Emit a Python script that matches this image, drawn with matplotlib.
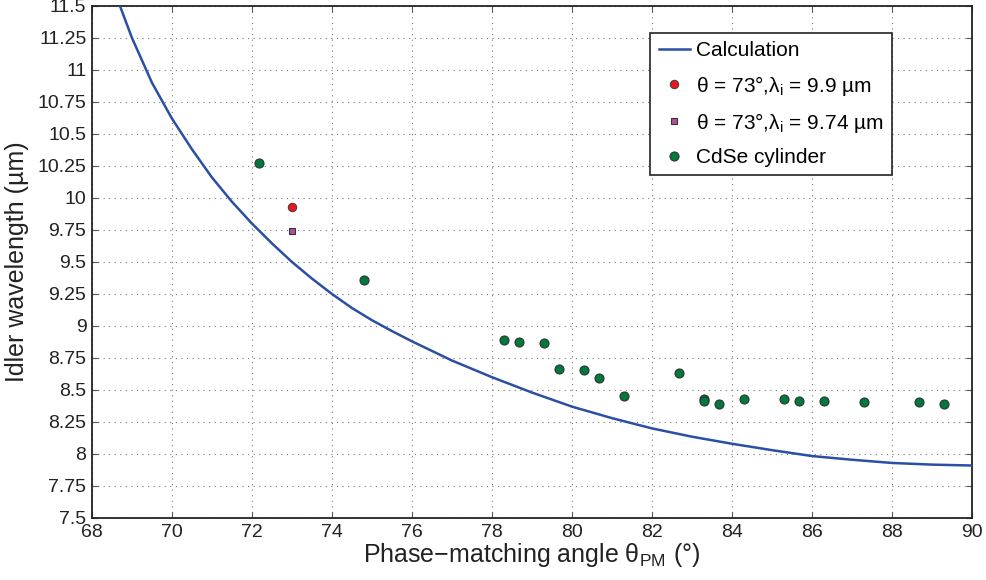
import numpy as np
import matplotlib
matplotlib.use('Agg')
from matplotlib import pyplot as plt
from matplotlib.ticker import FormatStrFormatter

plt.rcParams['font.family'] = ['Liberation Sans', 'DejaVu Sans']
plt.rcParams['mathtext.fontset'] = 'custom'
plt.rcParams['mathtext.rm'] = 'Liberation Sans'
plt.rcParams['mathtext.it'] = 'Liberation Sans:italic'

# calculated phase-matching curve
calc_angle = [68.7, 69.0, 69.5, 70.0, 70.5, 71.0, 71.5, 72.0, 72.5, 73.0,
              73.5, 74.0, 74.5, 75.0, 75.5, 76.0, 77.0, 78.0, 79.0, 80.0,
              81.0, 82.0, 83.0, 84.0, 85.0, 86.0, 87.0, 88.0, 89.0, 90.0]
calc_idler = [11.5, 11.25, 10.9, 10.62, 10.38, 10.16, 9.97, 9.8, 9.645, 9.5,
              9.37, 9.25, 9.14, 9.045, 8.96, 8.88, 8.73, 8.6, 8.48, 8.37,
              8.28, 8.2, 8.135, 8.08, 8.03, 7.984, 7.955, 7.93, 7.917, 7.91]

# single measurements at 73 deg
red_angle = [73.0]
red_idler = [9.93]
sq_angle = [73.0]
sq_idler = [9.74]

# CdSe cylinder measurements
cyl_angle = [72.18, 74.8, 78.31, 78.68, 79.31, 79.67, 80.3, 80.67, 81.3, 82.67,
             83.31, 83.31, 83.68, 84.3, 85.3, 85.67, 86.3, 87.3, 88.67, 89.3]
cyl_idler = [10.27, 9.36, 8.89, 8.875, 8.867, 8.664, 8.66, 8.59, 8.45, 8.633,
             8.432, 8.417, 8.39, 8.43, 8.43, 8.414, 8.417, 8.404, 8.404, 8.39]

fig = plt.figure(figsize=(9.86, 5.8), dpi=100)
ax = fig.add_axes([0.0933, 0.1069, 0.8925, 0.8828])

ax.plot(calc_angle, calc_idler, color='#2b4fa3', lw=1.8, label='Calculation', zorder=3)
ax.plot(red_angle, red_idler, 'o', ms=6, mfc='#f0141e', mec='#444444', mew=0.8,
        label='θ = 73°,λ$_\\mathregular{i}$ = 9.9 µm', zorder=4)
ax.plot(sq_angle, sq_idler, 's', ms=5, mfc='#b0509c', mec='#333333', mew=0.8,
        label='θ = 73°,λ$_\\mathregular{i}$ = 9.74 µm', zorder=4)
ax.plot(cyl_angle, cyl_idler, 'o', ms=6.5, mfc='#007a3a', mec='#333333', mew=0.8,
        label='CdSe cylinder', zorder=4)

ax.set_xlim(68, 90)
ax.set_ylim(7.5, 11.5)
ax.set_xticks(np.arange(68, 91, 2))
ax.set_yticks(np.arange(7.5, 11.51, 0.25))
ax.yaxis.set_major_formatter(FormatStrFormatter('%g'))
ax.tick_params(direction='in', length=4, width=0.8, labelsize=14, pad=4,
               top=True, right=True, colors='#555555', labelcolor='#222222')
ax.grid(True, linestyle=(0, (1, 4)), color='#777777', lw=0.8)
for s in ax.spines.values():
    s.set_linewidth(1.3)
    s.set_color('#222222')

ax.set_xlabel('Phase−matching angle θ$_\\mathregular{PM}$ (°)', fontsize=18, labelpad=0,
              color='#222222')
ax.set_ylabel('Idler wavelength (µm)', fontsize=18, labelpad=6, color='#222222')

leg = ax.legend(loc='upper right', bbox_to_anchor=(0.909, 0.947), borderaxespad=0,
                numpoints=1, fontsize=15, fancybox=False, framealpha=1,
                edgecolor='#222222', handlelength=1.5, handletextpad=0.3,
                borderpad=0.4, labelspacing=0.63)
leg.get_frame().set_linewidth(1.2)

plt.savefig('out.png', dpi=100)
